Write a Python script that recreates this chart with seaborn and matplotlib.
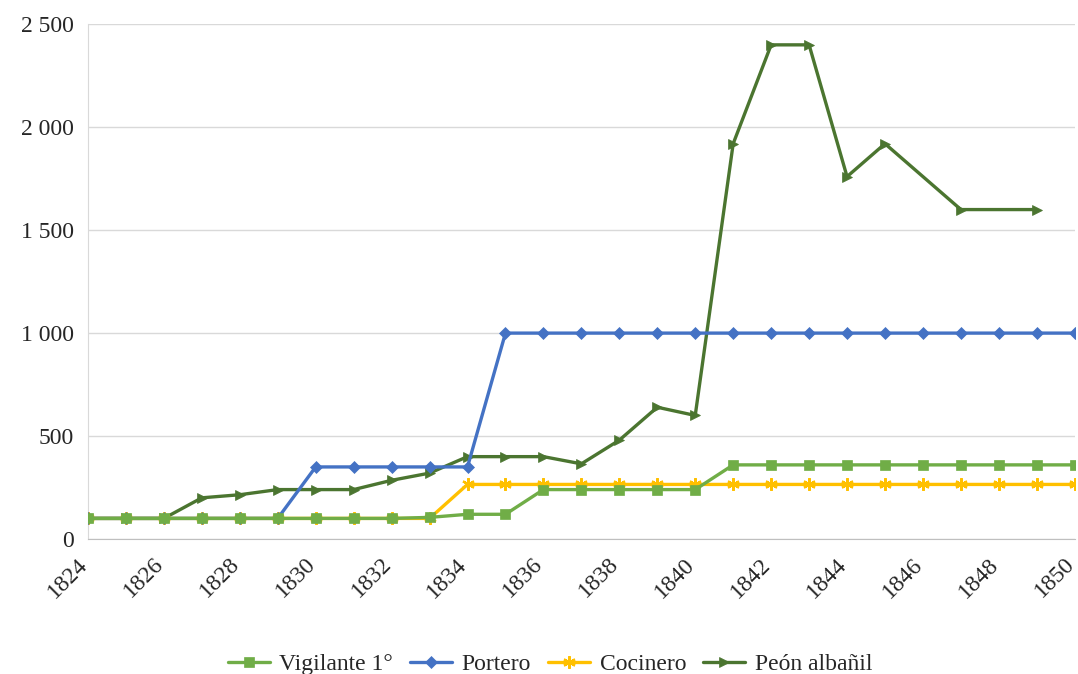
import numpy as np
import pandas as pd
import matplotlib
matplotlib.use("Agg")
import matplotlib.pyplot as plt
import matplotlib.transforms as mtransforms
import seaborn as sns
from matplotlib.ticker import FuncFormatter, MultipleLocator

years = list(range(1824, 1851))

vigilante = [100, 100, 100, 100, 100, 100, 100, 100, 100, 105, 120, 120, 240,
             240, 240, 240, 240, 360, 360, 360, 360, 360, 360, 360, 360, 360, 360]
portero = [100, 100, 100, 100, 100, 100, 350, 350, 350, 350, 350, 1000, 1000,
           1000, 1000, 1000, 1000, 1000, 1000, 1000, 1000, 1000, 1000, 1000, 1000, 1000, 1000]
cocinero = [100, 100, 100, 100, 100, 100, 100, 100, 100, 100, 265, 265, 265,
            265, 265, 265, 265, 265, 265, 265, 265, 265, 265, 265, 265, 265, 265]
peon = [100, 100, 100, 200, 215, 240, 240, 240, 285, 320, 400, 400, 400,
        365, 480, 640, 600, 1920, 2400, 2400, 1760, 1920, np.nan, 1600, np.nan, 1600, np.nan]

series_names = ["Vigilante 1°", "Portero", "Cocinero", "Peón albañil"]
series_values = [vigilante, portero, cocinero, peon]
colors = ["#70AD47", "#4472C4", "#FFC000", "#4B7530"]
markers = ["s", "D", (6, 2, 0), ">"]
msizes = [7.5, 6.5, 9, 7.5]

sns.set_style("white")
plt.rcParams['font.family'] = ['Liberation Serif', 'DejaVu Serif']

fig = plt.figure(figsize=(10.78, 6.74), dpi=100)
ax = fig.add_axes([0.0816, 0.2003, 0.9154, 0.7637])

# draw in reverse so the first series ends up on top
for i in reversed(range(4)):
    df = pd.DataFrame({"year": years, "value": series_values[i]}).dropna()
    mew = 1.6 if i == 2 else 0.5
    sns.lineplot(data=df, x="year", y="value", ax=ax, color=colors[i],
                 marker=markers[i], markersize=msizes[i], linewidth=2.4,
                 markeredgewidth=mew, markeredgecolor=colors[i],
                 label=series_names[i], zorder=3 + (4 - i))

ax.set_xlim(1824, 1850)
ax.set_ylim(0, 2500)
ax.xaxis.set_major_locator(MultipleLocator(2))
ax.yaxis.set_major_locator(MultipleLocator(500))
ax.yaxis.set_major_formatter(FuncFormatter(lambda v, p: f"{int(v):,}".replace(",", " ")))
ax.grid(axis="y", color="#D9D9D9", linewidth=1)
ax.set_axisbelow(True)
for s in ["top", "right"]:
    ax.spines[s].set_visible(False)
ax.spines["left"].set_color("#D9D9D9")
ax.spines["bottom"].set_color("#BFBFBF")
ax.set_xlabel("")
ax.set_ylabel("")
ax.tick_params(axis="both", length=0, labelsize=17)
ax.tick_params(axis="y", pad=10)
ax.tick_params(axis="x", pad=2)
fig.canvas.draw()
shift = mtransforms.ScaledTranslation(-11 / 100, -12 / 100, fig.dpi_scale_trans)
for lab in ax.get_xticklabels():
    lab.set_rotation(45)
    lab.set_ha("right")
    lab.set_va("top")
    lab.set_rotation_mode("anchor")
    lab.set_transform(lab.get_transform() + shift)

handles, labels = ax.get_legend_handles_labels()
order = [labels.index(n) for n in series_names]
ax.legend([handles[k] for k in order], series_names, loc="center",
          bbox_to_anchor=(0.468, -0.243), ncol=4, frameon=False, fontsize=17,
          handlelength=1.8, columnspacing=0.7, handletextpad=0.4)

fig.savefig("out.png", dpi=100)
